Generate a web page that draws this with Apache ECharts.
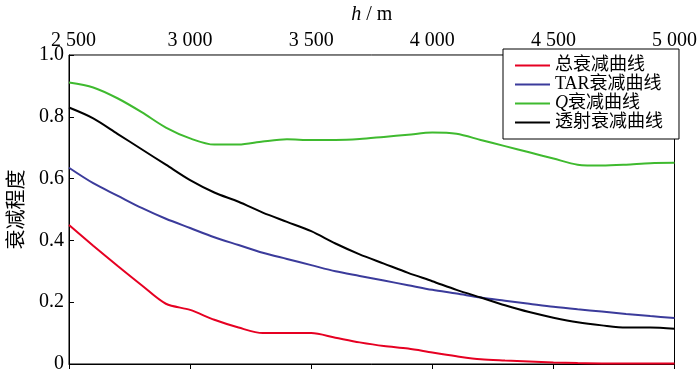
<!DOCTYPE html>
<html>
<head>
<meta charset="utf-8">
<script src="https://cdn.jsdelivr.net/npm/echarts@6/dist/echarts.min.js"></script>
<style>
  html, body { margin: 0; padding: 0; background: #fff; }
  #main { width: 700px; height: 378px; }
</style>
</head>
<body>
<div id="main"></div>
<script>
// depth h (m)
var depth = [2500, 2600, 2700, 2800, 2900, 3000, 3100, 3200, 3300, 3400, 3500, 3600, 3700,
             3800, 3900, 4000, 4100, 4200, 4300, 4400, 4500, 4600, 4700, 4800, 4900, 5000];

var seriesNames = ['总衰减曲线', 'TAR衰减曲线', 'Q衰减曲线', '透射衰减曲线'];

var totalAtt = [0.45, 0.383, 0.318, 0.255, 0.195, 0.175, 0.143, 0.118, 0.10, 0.10, 0.10, 0.085, 0.07,
                0.058, 0.05, 0.037, 0.025, 0.015, 0.011, 0.008, 0.005, 0.003, 0.002, 0.002, 0.002, 0.002];
var tarAtt = [0.635, 0.585, 0.545, 0.505, 0.47, 0.44, 0.41, 0.385, 0.36, 0.34, 0.32, 0.30, 0.285,
              0.27, 0.255, 0.24, 0.228, 0.215, 0.205, 0.195, 0.185, 0.177, 0.17, 0.162, 0.155, 0.149];
var qAtt = [0.911, 0.895, 0.86, 0.815, 0.765, 0.73, 0.71, 0.71, 0.72, 0.727, 0.725, 0.725, 0.728,
            0.735, 0.742, 0.749, 0.745, 0.725, 0.705, 0.685, 0.665, 0.645, 0.642, 0.645, 0.65, 0.651];
var transAtt = [0.83, 0.795, 0.745, 0.695, 0.645, 0.595, 0.555, 0.525, 0.49, 0.46, 0.43, 0.39, 0.355,
                0.325, 0.295, 0.268, 0.24, 0.215, 0.19, 0.168, 0.15, 0.135, 0.125, 0.118, 0.118, 0.114];

var colors = ['#e60022', '#3b3b9b', '#3fba2f', '#000000'];
var values = [totalAtt, tarAtt, qAtt, transAtt];

var serif = '"Liberation Serif", "Noto Sans CJK SC", serif';

function pairs(arr) {
    return depth.map(function (d, i) { return [d, arr[i]]; });
}

var dom = document.getElementById('main');
var myChart = echarts.init(dom, null, { renderer: 'canvas' });

var option = {
    animation: false,
    backgroundColor: '#fff',
    grid: {
        left: 58, right: 19, top: 49, bottom: 14,
        show: true, borderColor: '#000', borderWidth: 1
    },
    legend: {
        orient: 'vertical',
        left: 503, top: 49,
        backgroundColor: '#fff',
        borderColor: '#000', borderWidth: 1,
        padding: [7, 16, 7, 12],
        itemGap: 0,
        itemWidth: 35, itemHeight: 2,
        icon: 'rect',
        data: seriesNames,
        formatter: function (name) {
            if (name === 'Q衰减曲线') return '{i|Q}衰减曲线';
            return name;
        },
        textStyle: {
            fontFamily: serif, fontSize: 18, color: '#000', lineHeight: 19,
            rich: { i: { fontStyle: 'italic', fontFamily: serif, fontSize: 18, lineHeight: 19 } }
        }
    },
    xAxis: {
        type: 'value',
        position: 'top',
        min: 2500, max: 5000, interval: 500,
        name: '{i|h} / m',
        nameLocation: 'middle',
        nameGap: 30,
        nameTextStyle: {
            fontFamily: serif, fontSize: 20, color: '#000',
            rich: { i: { fontStyle: 'italic', fontFamily: serif, fontSize: 20 } }
        },
        axisLine: { lineStyle: { color: '#000', width: 1 } },
        axisTick: { inside: true, length: 5, lineStyle: { color: '#000' } },
        splitLine: { show: false },
        axisLabel: {
            margin: 4,
            color: '#000', fontFamily: serif, fontSize: 20,
            formatter: function (v) {
                var s = String(v).replace(/\B(?=(\d{3})+(?!\d))/g, ' ');
                return v === 2500 ? '{a|' + s + '}' : s;
            },
            rich: { a: { padding: [0, 0, 0, 9], fontFamily: serif, fontSize: 20, color: '#000' } }
        }
    },
    yAxis: {
        type: 'value',
        min: 0, max: 1, interval: 0.2,
        name: '衰减程度',
        nameLocation: 'middle',
        nameGap: 41,
        nameTextStyle: { fontFamily: serif, fontSize: 20, color: '#000' },
        axisLine: { show: true, lineStyle: { color: '#000', width: 1 } },
        axisTick: { show: true, inside: true, length: 5, lineStyle: { color: '#000' } },
        splitLine: { show: false },
        axisLabel: {
            margin: 5,
            color: '#000', fontFamily: serif, fontSize: 20,
            formatter: function (v) { return v === 0 ? '0' : v.toFixed(1); }
        }
    },
    series: seriesNames.map(function (n, k) {
        return {
            name: n,
            type: 'line',
            data: pairs(values[k]),
            showSymbol: false,
            symbol: 'none',
            smooth: 0.3,
            color: colors[k],
            lineStyle: { color: colors[k], width: 2 },
            z: k === 3 ? 3 : 2
        };
    })
};

myChart.setOption(option);
window.addEventListener('resize', myChart.resize);
</script>
</body>
</html>
